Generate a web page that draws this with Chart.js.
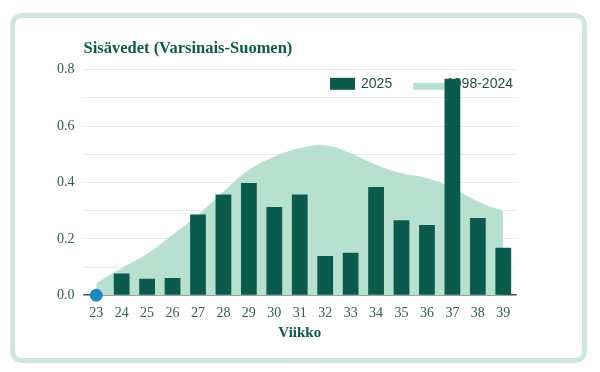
<!DOCTYPE html>
<html>
<head>
<meta charset="utf-8">
<script src="https://cdn.jsdelivr.net/npm/chart.js@4/dist/chart.umd.min.js"></script>
<style>
  body { margin: 0; background: #fff; }
  #card {
    position: absolute; left: 10px; top: 13px; width: 567px; height: 340px;
    border: 5px solid #cfe8dd; border-radius: 12px; background: #fff;
  }
  #wrap { position: absolute; left: 0; top: 0; width: 600px; height: 372px; }
</style>
</head>
<body>
<div id="card"></div>
<div id="wrap"><canvas id="chart"></canvas></div>
<script>
var weeks = ["23","24","25","26","27","28","29","30","31","32","33","34","35","36","37","38","39"];
var values2025 = [0, 0.077, 0.058, 0.061, 0.286, 0.357, 0.398, 0.313, 0.357, 0.139, 0.151, 0.384, 0.266, 0.249, 0.768, 0.274, 0.168];
var valuesAvg = [0.041, 0.095, 0.145, 0.213, 0.284, 0.366, 0.443, 0.49, 0.52, 0.53, 0.502, 0.461, 0.431, 0.414, 0.378, 0.331, 0.296];
var hoverPoint = [0, null, null, null, null, null, null, null, null, null, null, null, null, null, null, null, null];

var serif = "'Liberation Serif', 'DejaVu Serif', serif";
var sans = "'Liberation Sans', Arial, sans-serif";
var teal = "#0b5a4e";
var light = "#b8e0cf";

// legend sits inside the plot, under the bars (bar 37 covers it)
var innerLegend = {
  id: 'innerLegend',
  beforeDatasetsDraw: function(chart) {
    var ctx = chart.ctx, a = chart.chartArea;
    ctx.save();
    ctx.font = "14px " + sans;
    ctx.fillStyle = "#1f4f49";
    ctx.textBaseline = 'middle';
    var y = a.top + 14;
    var t2 = "1998-2024", t1 = "2025";
    var x2 = a.right - 3 - ctx.measureText(t2).width;
    ctx.fillText(t2, x2, y);
    ctx.fillStyle = light;
    ctx.fillRect(x2 - 33, y - 1, 32, 7);
    var x1 = x2 - 85;
    ctx.fillStyle = "#1f4f49";
    ctx.fillText(t1, x1, y);
    ctx.fillStyle = teal;
    ctx.fillRect(x1 - 31, y - 6, 25, 12);
    ctx.restore();
  }
};

var chart = new Chart(document.getElementById("chart"), {
  data: {
    labels: weeks,
    datasets: [
      {
        type: 'line',
        label: "",
        data: hoverPoint,
        pointRadius: 6,
        pointBackgroundColor: "#1689c4",
        pointBorderColor: "#1689c4",
        showLine: false,
        clip: false,
        order: 0
      },
      {
        type: 'bar',
        label: "2025",
        data: values2025,
        backgroundColor: teal,
        barPercentage: 0.62,
        categoryPercentage: 1,
        order: 1
      },
      {
        type: 'line',
        label: "1998-2024",
        data: valuesAvg,
        fill: 'origin',
        backgroundColor: light,
        borderColor: light,
        borderWidth: 1,
        pointRadius: 0,
        tension: 0.4,
        order: 2
      }
    ]
  },
  options: {
    responsive: true,
    maintainAspectRatio: false,
    animation: false,
    layout: { padding: { left: 48, right: 84, top: 39, bottom: 26 } },
    plugins: {
      title: {
        display: true,
        text: "Sisävedet (Varsinais-Suomen)",
        align: 'start',
        fullSize: false,
        color: teal,
        font: { family: serif, size: 16.5, weight: 'bold' },
        padding: { top: 0, bottom: 11 }
      },
      legend: { display: false },
      tooltip: { enabled: false }
    },
    scales: {
      x: {
        grid: { display: false },
        border: { color: "#555", width: 1.5 },
        ticks: { color: "#2f5f59", font: { family: serif, size: 14 }, padding: 2 },
        title: {
          display: true,
          text: "Viikko",
          color: teal,
          font: { family: serif, size: 15, weight: 'bold' },
          padding: { top: 0 }
        }
      },
      y: {
        min: 0,
        max: 0.8,
        grid: { color: "#e8e8e8", drawTicks: false },
        border: { display: false },
        ticks: {
          stepSize: 0.1,
          padding: 9,
          color: "#2f5f59",
          font: { family: serif, size: 14 },
          callback: function(v) {
            var r = Math.round(v * 10);
            return r % 2 === 0 ? (r / 10).toFixed(1) : "";
          }
        }
      }
    }
  },
  plugins: [innerLegend]
});
</script>
</body>
</html>
